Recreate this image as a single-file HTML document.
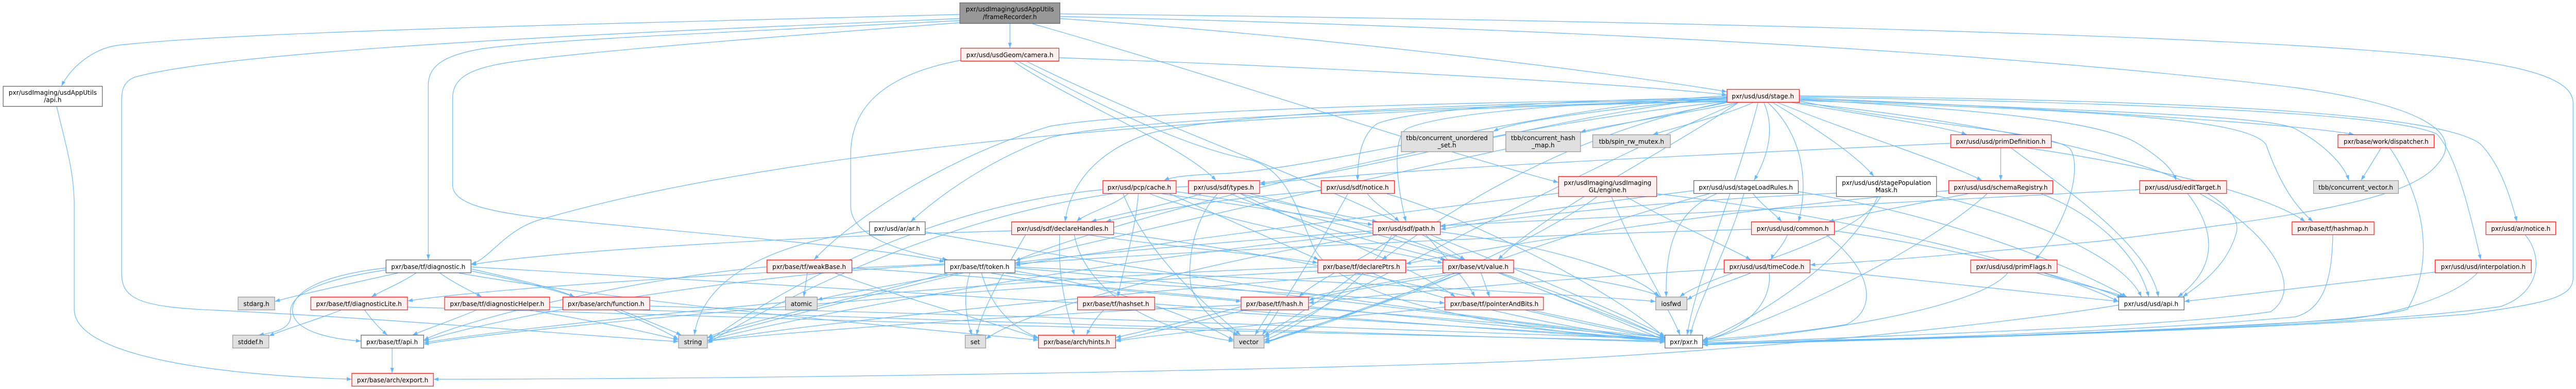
<!DOCTYPE html>
<html>
<head>
<meta charset="utf-8">
<style>
html,body{margin:0;padding:0;background:#fff;width:100%;height:100%;overflow:hidden;}
svg{display:block;position:absolute;left:0;top:0;width:100vw;height:100vh;}
text{font-family:"DejaVu Sans","Liberation Sans",sans-serif;font-size:12.8px;fill:#000;text-anchor:middle;}
.e path{fill:none;stroke:#63b8ff;stroke-width:1.2;}
.r{fill:#fff0f0;stroke:#ff2020;stroke-width:1.3;}
.w{fill:#ffffff;stroke:#666666;stroke-width:1.3;}
.g{fill:#e0e0e0;stroke:#999999;stroke-width:1.3;}
.k{fill:#999999;stroke:#666666;stroke-width:1.3;}
</style>
</head>
<body>
<svg viewBox="0 0 5275 755" preserveAspectRatio="none" xmlns="http://www.w3.org/2000/svg" overflow="hidden">
<defs>
<marker id="a" markerWidth="11" markerHeight="8" refX="10" refY="4" orient="auto" markerUnits="userSpaceOnUse">
<path d="M0,0.3 L10,4 L0,7.7z" fill="#63b8ff"/>
</marker>
</defs>
<g class="e" marker-end="url(#a)">
<path d="M1965,28 C1300,45 500,60 240,88 C190,95 145,130 126,167"/>
<path d="M1965,36 C1500,55 500,90 275,150 C255,158 249,172 249,195 L249,530 C249,580 285,596 440,602 C800,618 1200,652 1389,663"/>
<path d="M1965,40 C1500,62 1100,78 985,95 C905,108 877,130 877,165 L877,504"/>
<path d="M1966,44 C1600,70 1200,100 1050,120 C960,132 927,152 927,190 L927,360 C927,395 1000,410 1100,422 C1500,460 1800,480 1934,508"/>
<path d="M2068,46 L2068,93"/>
<path d="M2171,36 C2700,70 3300,140 3536,178"/>
<path d="M2114,46 C2500,150 2900,280 3191,354"/>
<path d="M2171,27 C3000,35 4500,60 5000,110 C5200,130 5269,160 5269,200 L5269,540 C5269,580 5200,590 5050,610 C4500,650 3700,660 3487,665"/>
<path d="M2171,32 C3000,50 4000,90 4700,170 C5000,210 5040,270 4990,320 C4930,390 4700,420 4300,468 C4000,495 3800,510 3707,514"/>
<path d="M2169,112 C2700,130 3300,160 3536,184"/>
<path d="M1967,117 C1780,150 1742,230 1742,300 L1742,400 C1742,460 1850,490 1940,504"/>
<path d="M2102,119 C2400,260 2800,380 3000,504"/>
<path d="M2075,119 C2200,200 2420,280 2490,350"/>
<path d="M2085,119 C2300,230 2450,290 2560,310 C2640,330 2660,420 2690,480 C2750,600 3200,650 3409,662"/>
<path d="M3536,190 C3300,210 3100,235 3058,255"/>
<path d="M3560,199 C3450,220 3280,245 3237,256"/>
<path d="M3590,199 C3530,225 3420,250 3385,261"/>
<path d="M3670,199 C3800,220 3980,245 4027,261"/>
<path d="M3640,199 C3800,260 4000,320 4058,350"/>
<path d="M3630,199 C3720,250 3800,300 3837,342"/>
<path d="M3612,199 C3640,260 3610,320 3592,350"/>
<path d="M3620,199 C3690,260 3705,350 3683,430"/>
<path d="M3685,196 C3900,240 4210,255 4240,290 C4265,330 4230,440 4167,504"/>
<path d="M3685,193 C4000,210 4300,230 4380,280 C4430,310 4450,330 4456,350"/>
<path d="M3685,190 C4200,210 4700,240 4820,261"/>
<path d="M3685,192 C4300,215 4650,225 4700,250 C4760,280 4800,320 4810,350"/>
<path d="M3685,195 C4300,215 4600,230 4640,280 C4670,360 4700,400 4736,430"/>
<path d="M3685,188 C4400,200 4900,220 4990,260 C5030,300 5060,420 5080,504"/>
<path d="M3685,186 C4500,195 5000,220 5080,280 C5120,320 5140,380 5154,430"/>
<path d="M3680,199 C4200,250 4600,350 4580,450 C4560,520 4500,555 4470,576"/>
<path d="M3600,199 C3560,350 3470,550 3455,650"/>
<path d="M3536,186 C3200,200 2700,330 2500,337 C2420,340 2395,345 2384,350"/>
<path d="M3536,188 C3200,220 2800,335 2580,355"/>
<path d="M3536,189 C3200,195 2900,210 2820,240 C2790,260 2780,300 2780,350"/>
<path d="M3536,192 C3200,200 2950,220 2880,250 C2850,270 2860,360 2879,430"/>
<path d="M3536,194 C3000,200 2500,220 2350,260 C2230,300 2190,370 2181,430"/>
<path d="M3536,196 C3000,205 2300,230 2150,267 C2000,320 1900,400 1865,430"/>
<path d="M3536,192 C2800,200 2300,220 2150,245 C1950,300 1750,420 1667,504"/>
<path d="M3536,197 C2800,210 2200,250 1800,300 C1400,350 1200,400 1100,428 C1030,450 1000,505 965,512"/>
<path d="M3536,198 C3200,260 2950,420 2830,504"/>
<path d="M3560,199 C3400,300 3150,420 3068,504"/>
<path d="M3536,199 C3000,300 1800,560 1449,656"/>
<path d="M3560,199 C3300,300 2700,600 2589,655"/>
<path d="M3536,197 C3000,250 2300,420 2079,506"/>
<path d="M2310,376 C2280,400 2220,415 2205,430"/>
<path d="M2331,376 C2325,450 2300,520 2289,576"/>
<path d="M2380,376 C2550,400 2700,420 2811,436"/>
<path d="M2355,376 C2500,430 2800,480 2954,510"/>
<path d="M2395,376 C2500,420 2620,470 2700,504"/>
<path d="M2258,368 C1900,400 1600,560 1449,663"/>
<path d="M2300,376 C2350,500 2480,600 2540,650"/>
<path d="M2409,372 C2800,420 3300,600 3409,657"/>
<path d="M2460,376 C2380,400 2270,420 2235,430"/>
<path d="M2540,376 C2650,400 2750,420 2820,430"/>
<path d="M2493,376 C2440,430 2430,520 2440,560 C2460,610 2510,640 2535,650"/>
<path d="M2520,376 C2650,430 2850,480 2960,504"/>
<path d="M2540,376 C2700,450 2900,520 2980,576"/>
<path d="M2433,362 C2000,380 1600,580 1449,666"/>
<path d="M2560,376 C2900,450 3300,620 3409,660"/>
<path d="M2800,376 C2820,400 2850,415 2865,430"/>
<path d="M2840,376 C3000,420 3300,560 3409,655"/>
<path d="M2705,370 C2500,385 2350,410 2265,430"/>
<path d="M2760,376 C2700,480 2620,600 2585,650"/>
<path d="M3330,382 C3420,430 3540,480 3585,504"/>
<path d="M3270,382 C3100,500 2700,640 2589,663"/>
<path d="M3300,382 C3350,500 3420,600 3440,650"/>
<path d="M3393,376 C3800,420 4200,520 4338,585"/>
<path d="M3191,375 C2800,420 2300,480 2079,515"/>
<path d="M3590,376 C3610,400 3635,415 3648,430"/>
<path d="M3515,376 C3430,410 3410,480 3412,576"/>
<path d="M3571,376 C3540,480 3470,600 3462,650"/>
<path d="M3468,370 C3300,390 3050,420 2950,440"/>
<path d="M3500,376 C3200,450 2800,600 2589,666"/>
<path d="M3683,372 C4000,420 4250,520 4355,576"/>
<path d="M3760,375 C3400,390 3100,420 2950,445"/>
<path d="M3851,382 C3800,470 3500,530 3440,576"/>
<path d="M3845,382 C3780,520 3550,640 3487,660"/>
<path d="M3966,380 C4150,420 4350,500 4385,576"/>
<path d="M4030,376 C3900,400 3790,420 3745,430"/>
<path d="M4180,376 C4300,420 4380,500 4400,576"/>
<path d="M4069,376 C3950,480 3650,620 3487,662"/>
<path d="M3990,370 C3600,400 3100,470 2879,512"/>
<path d="M4097,287 L4097,350"/>
<path d="M3994,278 C3500,300 2800,330 2580,358"/>
<path d="M4118,287 C4250,380 4400,480 4420,576"/>
<path d="M4150,287 C4400,320 4650,380 4720,430"/>
<path d="M4480,376 C4540,450 4540,520 4460,576"/>
<path d="M4381,368 C4000,390 3300,420 2950,438"/>
<path d="M4505,376 C4650,450 4720,560 4650,605 C4400,640 3700,655 3487,668"/>
<path d="M4876,287 L4835,350"/>
<path d="M4894,287 C4960,380 4990,500 4930,600 C4800,640 3800,660 3487,668"/>
<path d="M4777,456 C4775,540 4760,600 4700,615 C4300,650 3700,662 3487,668"/>
<path d="M5171,456 C5210,500 5200,570 5120,595 C4800,640 3800,662 3487,668"/>
<path d="M4986,528 C4800,550 4600,570 4473,585"/>
<path d="M5073,530 C5020,580 4900,610 4800,620 C4300,650 3700,664 3487,669"/>
<path d="M4338,592 C4100,630 3500,690 3000,705 C2200,728 1300,736 888,736"/>
<path d="M1895,450 C2300,520 3000,620 3409,655"/>
<path d="M1780,448 C1600,470 1440,530 1422,650"/>
<path d="M2071,448 C1600,460 1100,490 965,514"/>
<path d="M2170,456 C2165,550 2190,620 2200,650"/>
<path d="M2230,456 C2400,480 2600,495 2698,510"/>
<path d="M2200,456 C2220,560 2350,640 2526,662"/>
<path d="M2100,456 C2060,520 2010,600 2000,650"/>
<path d="M2281,452 C2700,500 3200,620 3409,656"/>
<path d="M2811,448 C2500,470 2200,495 2079,510"/>
<path d="M2920,456 C2960,500 3000,540 3020,576"/>
<path d="M2850,456 C2800,550 2650,640 2589,660"/>
<path d="M2811,452 C2300,500 1700,600 1449,660"/>
<path d="M2820,456 C2500,500 2100,600 2019,658"/>
<path d="M2950,450 C3200,480 3370,540 3395,576"/>
<path d="M2930,456 C3100,520 3350,620 3409,652"/>
<path d="M2860,456 C2800,500 2700,540 2660,576"/>
<path d="M3660,456 C3650,480 3630,495 3627,504"/>
<path d="M3757,448 C4000,480 4250,540 4345,578"/>
<path d="M3740,456 C3830,520 3850,600 3780,630 C3650,650 3550,655 3487,660"/>
<path d="M3586,445 C3000,460 2400,490 2079,512"/>
<path d="M814,530 C720,550 620,570 563,585"/>
<path d="M852,530 C820,550 780,565 761,576"/>
<path d="M901,530 C930,550 965,565 986,576"/>
<path d="M790,524 C640,545 590,575 595,610 C598,635 570,645 530,650"/>
<path d="M790,520 C650,535 590,570 600,610 C610,645 680,658 739,662"/>
<path d="M965,522 C1050,540 1140,560 1176,576"/>
<path d="M965,526 C1150,560 1300,610 1389,658"/>
<path d="M965,518 C1800,560 3000,640 3409,658"/>
<path d="M940,530 C1300,590 1900,640 2126,660"/>
<path d="M698,602 C650,620 580,640 551,652"/>
<path d="M747,602 C760,620 780,640 793,650"/>
<path d="M835,596 C1500,620 2800,650 3409,662"/>
<path d="M975,602 C930,620 870,640 845,650"/>
<path d="M1085,602 C1200,620 1330,645 1389,660"/>
<path d="M1126,596 C1800,620 3000,650 3409,664"/>
<path d="M1271,602 C1320,620 1370,640 1395,650"/>
<path d="M1331,594 C2000,610 3000,640 3409,658"/>
<path d="M1653,530 L1646,576"/>
<path d="M1570,518 C1300,540 950,620 868,660"/>
<path d="M1710,530 C1850,580 2050,630 2126,657"/>
<path d="M1745,520 C2400,560 3100,640 3409,660"/>
<path d="M1962,530 C1850,550 1720,570 1674,582"/>
<path d="M1986,530 C1970,580 1980,620 1990,650"/>
<path d="M1940,530 C1750,580 1500,630 1449,655"/>
<path d="M2030,530 C2200,560 2450,575 2541,585"/>
<path d="M2060,530 C2400,560 2800,575 2958,588"/>
<path d="M1934,514 C1500,530 1000,620 868,662"/>
<path d="M2079,526 C2300,560 2450,620 2526,660"/>
<path d="M1934,512 C1500,530 1000,560 835,584"/>
<path d="M2079,520 C2600,560 3200,640 3409,660"/>
<path d="M2079,518 C2600,540 3200,570 3390,585"/>
<path d="M2010,530 C2030,600 2080,640 2126,655"/>
<path d="M2777,530 C2700,590 2620,630 2589,652"/>
<path d="M2810,530 C2950,590 3250,645 3409,660"/>
<path d="M2698,518 C2000,540 1100,630 868,665"/>
<path d="M3033,530 L3050,576"/>
<path d="M2987,530 C2850,550 2720,570 2680,583"/>
<path d="M3070,530 C3200,580 3350,630 3409,655"/>
<path d="M2954,520 C2400,560 1700,620 1449,662"/>
<path d="M3100,520 C3250,540 3370,560 3400,576"/>
<path d="M2954,516 C2200,540 1100,630 868,668"/>
<path d="M2960,530 C2600,580 2400,640 2285,660"/>
<path d="M2990,530 C2850,590 2650,640 2589,666"/>
<path d="M3585,530 C3530,550 3480,565 3455,582"/>
<path d="M3623,530 C3630,600 3550,650 3487,660"/>
<path d="M3707,522 C3950,545 4200,570 4338,585"/>
<path d="M3530,522 C3200,540 2850,570 2680,588"/>
<path d="M4111,530 C4050,600 3700,650 3487,663"/>
<path d="M4171,530 C4250,550 4320,565 4350,576"/>
<path d="M2365,590 C2800,620 3200,650 3409,660"/>
<path d="M2260,602 C2240,620 2230,640 2225,650"/>
<path d="M2602,602 L2570,650"/>
<path d="M2541,595 C2450,620 2330,645 2285,655"/>
<path d="M2680,598 C3000,620 3300,645 3409,660"/>
<path d="M2541,592 C2100,610 1600,645 1449,662"/>
<path d="M3124,602 C3250,630 3350,650 3409,656"/>
<path d="M2958,596 C2700,620 2400,645 2285,662"/>
<path d="M116,207 C140,300 152,340 152,400 L152,600 C152,700 500,730 720,736"/>
<path d="M803,676 L803,724"/>
</g>

<g>
<rect class="k" x="1965.5" y="5.5" width="205" height="40"/>
<text x="2068" y="22">pxr/usdImaging/usdAppUtils</text>
<text x="2068" y="37">/frameRecorder.h</text>

<rect class="w" x="6.5" y="167.5" width="203" height="39"/>
<text x="108" y="184">pxr/usdImaging/usdAppUtils</text>
<text x="108" y="198">/api.h</text>

<rect class="r" x="1967.5" y="93.5" width="201" height="25"/>
<text x="2068" y="111">pxr/usd/usdGeom/camera.h</text>

<rect class="r" x="3536.5" y="173.5" width="148" height="25"/>
<text x="3610" y="191">pxr/usd/usd/stage.h</text>

<rect class="g" x="2869.5" y="255.5" width="188" height="39"/>
<text x="2963" y="272">tbb/concurrent_unordered</text>
<text x="2963" y="286">_set.h</text>

<rect class="g" x="3083.5" y="255.5" width="153" height="39"/>
<text x="3160" y="272">tbb/concurrent_hash</text>
<text x="3160" y="286">_map.h</text>

<rect class="g" x="3261.5" y="261.5" width="159" height="25"/>
<text x="3341" y="279">tbb/spin_rw_mutex.h</text>

<rect class="r" x="3994.5" y="261.5" width="206" height="25"/>
<text x="4097" y="279">pxr/usd/usd/primDefinition.h</text>

<rect class="r" x="4787.5" y="261.5" width="197" height="25"/>
<text x="4886" y="279">pxr/base/work/dispatcher.h</text>

<rect class="r" x="2258.5" y="350.5" width="150" height="25"/>
<text x="2333" y="368">pxr/usd/pcp/cache.h</text>

<rect class="r" x="2433.5" y="350.5" width="146" height="25"/>
<text x="2506" y="368">pxr/usd/sdf/types.h</text>

<rect class="r" x="2705.5" y="350.5" width="150" height="25"/>
<text x="2780" y="368">pxr/usd/sdf/notice.h</text>

<rect class="r" x="3191.5" y="342.5" width="201" height="39"/>
<text x="3292" y="359">pxr/usdImaging/usdImaging</text>
<text x="3292" y="373">GL/engine.h</text>

<rect class="w" x="3468.5" y="350.5" width="214" height="25"/>
<text x="3575" y="368">pxr/usd/usd/stageLoadRules.h</text>

<rect class="w" x="3760.5" y="342.5" width="205" height="39"/>
<text x="3863" y="359">pxr/usd/usd/stagePopulation</text>
<text x="3863" y="373">Mask.h</text>

<rect class="r" x="3990.5" y="350.5" width="213" height="25"/>
<text x="4097" y="368">pxr/usd/usd/schemaRegistry.h</text>

<rect class="r" x="4381.5" y="350.5" width="178" height="25"/>
<text x="4470" y="368">pxr/usd/usd/editTarget.h</text>

<rect class="g" x="4737.5" y="350.5" width="174" height="25"/>
<text x="4824" y="368">tbb/concurrent_vector.h</text>

<rect class="w" x="1780.5" y="430.5" width="114" height="25"/>
<text x="1837" y="448">pxr/usd/ar/ar.h</text>

<rect class="r" x="2071.5" y="430.5" width="209" height="25"/>
<text x="2176" y="448">pxr/usd/sdf/declareHandles.h</text>

<rect class="r" x="2811.5" y="430.5" width="138" height="25"/>
<text x="2880" y="448">pxr/usd/sdf/path.h</text>

<rect class="r" x="3586.5" y="430.5" width="170" height="25"/>
<text x="3671" y="448">pxr/usd/usd/common.h</text>

<rect class="r" x="4693.5" y="430.5" width="168" height="25"/>
<text x="4777" y="448">pxr/base/tf/hashmap.h</text>

<rect class="r" x="5090.5" y="430.5" width="143" height="25"/>
<text x="5162" y="448">pxr/usd/ar/notice.h</text>

<rect class="w" x="790.5" y="504.5" width="174" height="25"/>
<text x="877" y="522">pxr/base/tf/diagnostic.h</text>

<rect class="r" x="1570.5" y="504.5" width="174" height="25"/>
<text x="1657" y="522">pxr/base/tf/weakBase.h</text>

<rect class="w" x="1934.5" y="504.5" width="144" height="25"/>
<text x="2006" y="522">pxr/base/tf/token.h</text>

<rect class="r" x="2698.5" y="504.5" width="180" height="25"/>
<text x="2788" y="522">pxr/base/tf/declarePtrs.h</text>

<rect class="r" x="2954.5" y="504.5" width="145" height="25"/>
<text x="3027" y="522">pxr/base/vt/value.h</text>

<rect class="r" x="3530.5" y="504.5" width="176" height="25"/>
<text x="3618" y="522">pxr/usd/usd/timeCode.h</text>

<rect class="r" x="4035.5" y="504.5" width="177" height="25"/>
<text x="4124" y="522">pxr/usd/usd/primFlags.h</text>

<rect class="r" x="4986.5" y="504.5" width="197" height="25"/>
<text x="5085" y="522">pxr/usd/usd/interpolation.h</text>

<rect class="g" x="487.5" y="576.5" width="75" height="25"/>
<text x="525" y="594">stdarg.h</text>

<rect class="r" x="636.5" y="576.5" width="198" height="25"/>
<text x="735" y="594">pxr/base/tf/diagnosticLite.h</text>

<rect class="r" x="910.5" y="576.5" width="215" height="25"/>
<text x="1018" y="594">pxr/base/tf/diagnosticHelper.h</text>

<rect class="r" x="1152.5" y="576.5" width="178" height="25"/>
<text x="1241" y="594">pxr/base/arch/function.h</text>

<rect class="g" x="1608.5" y="576.5" width="65" height="25"/>
<text x="1641" y="594">atomic</text>

<rect class="r" x="2206.5" y="576.5" width="158" height="25"/>
<text x="2285" y="594">pxr/base/tf/hashset.h</text>

<rect class="r" x="2541.5" y="576.5" width="138" height="25"/>
<text x="2610" y="594">pxr/base/tf/hash.h</text>

<rect class="r" x="2958.5" y="576.5" width="202" height="25"/>
<text x="3060" y="594">pxr/base/tf/pointerAndBits.h</text>

<rect class="g" x="3390.5" y="576.5" width="64" height="25"/>
<text x="3422" y="594">iosfwd</text>

<rect class="w" x="4338.5" y="576.5" width="134" height="25"/>
<text x="4405" y="594">pxr/usd/usd/api.h</text>

<rect class="g" x="476.5" y="650.5" width="74" height="25"/>
<text x="513" y="668">stddef.h</text>

<rect class="w" x="739.5" y="650.5" width="128" height="25"/>
<text x="803" y="668">pxr/base/tf/api.h</text>

<rect class="g" x="1389.5" y="650.5" width="59" height="25"/>
<text x="1419" y="668">string</text>

<rect class="g" x="1976.5" y="650.5" width="42" height="25"/>
<text x="1997" y="668">set</text>

<rect class="r" x="2126.5" y="650.5" width="158" height="25"/>
<text x="2205" y="668">pxr/base/arch/hints.h</text>

<rect class="g" x="2526.5" y="650.5" width="62" height="25"/>
<text x="2557" y="668">vector</text>

<rect class="w" x="3409.5" y="650.5" width="77" height="25"/>
<text x="3448" y="668">pxr/pxr.h</text>

<rect class="r" x="720.5" y="724.5" width="167" height="25"/>
<text x="804" y="742">pxr/base/arch/export.h</text>
</g>
</svg>
</body>
</html>
